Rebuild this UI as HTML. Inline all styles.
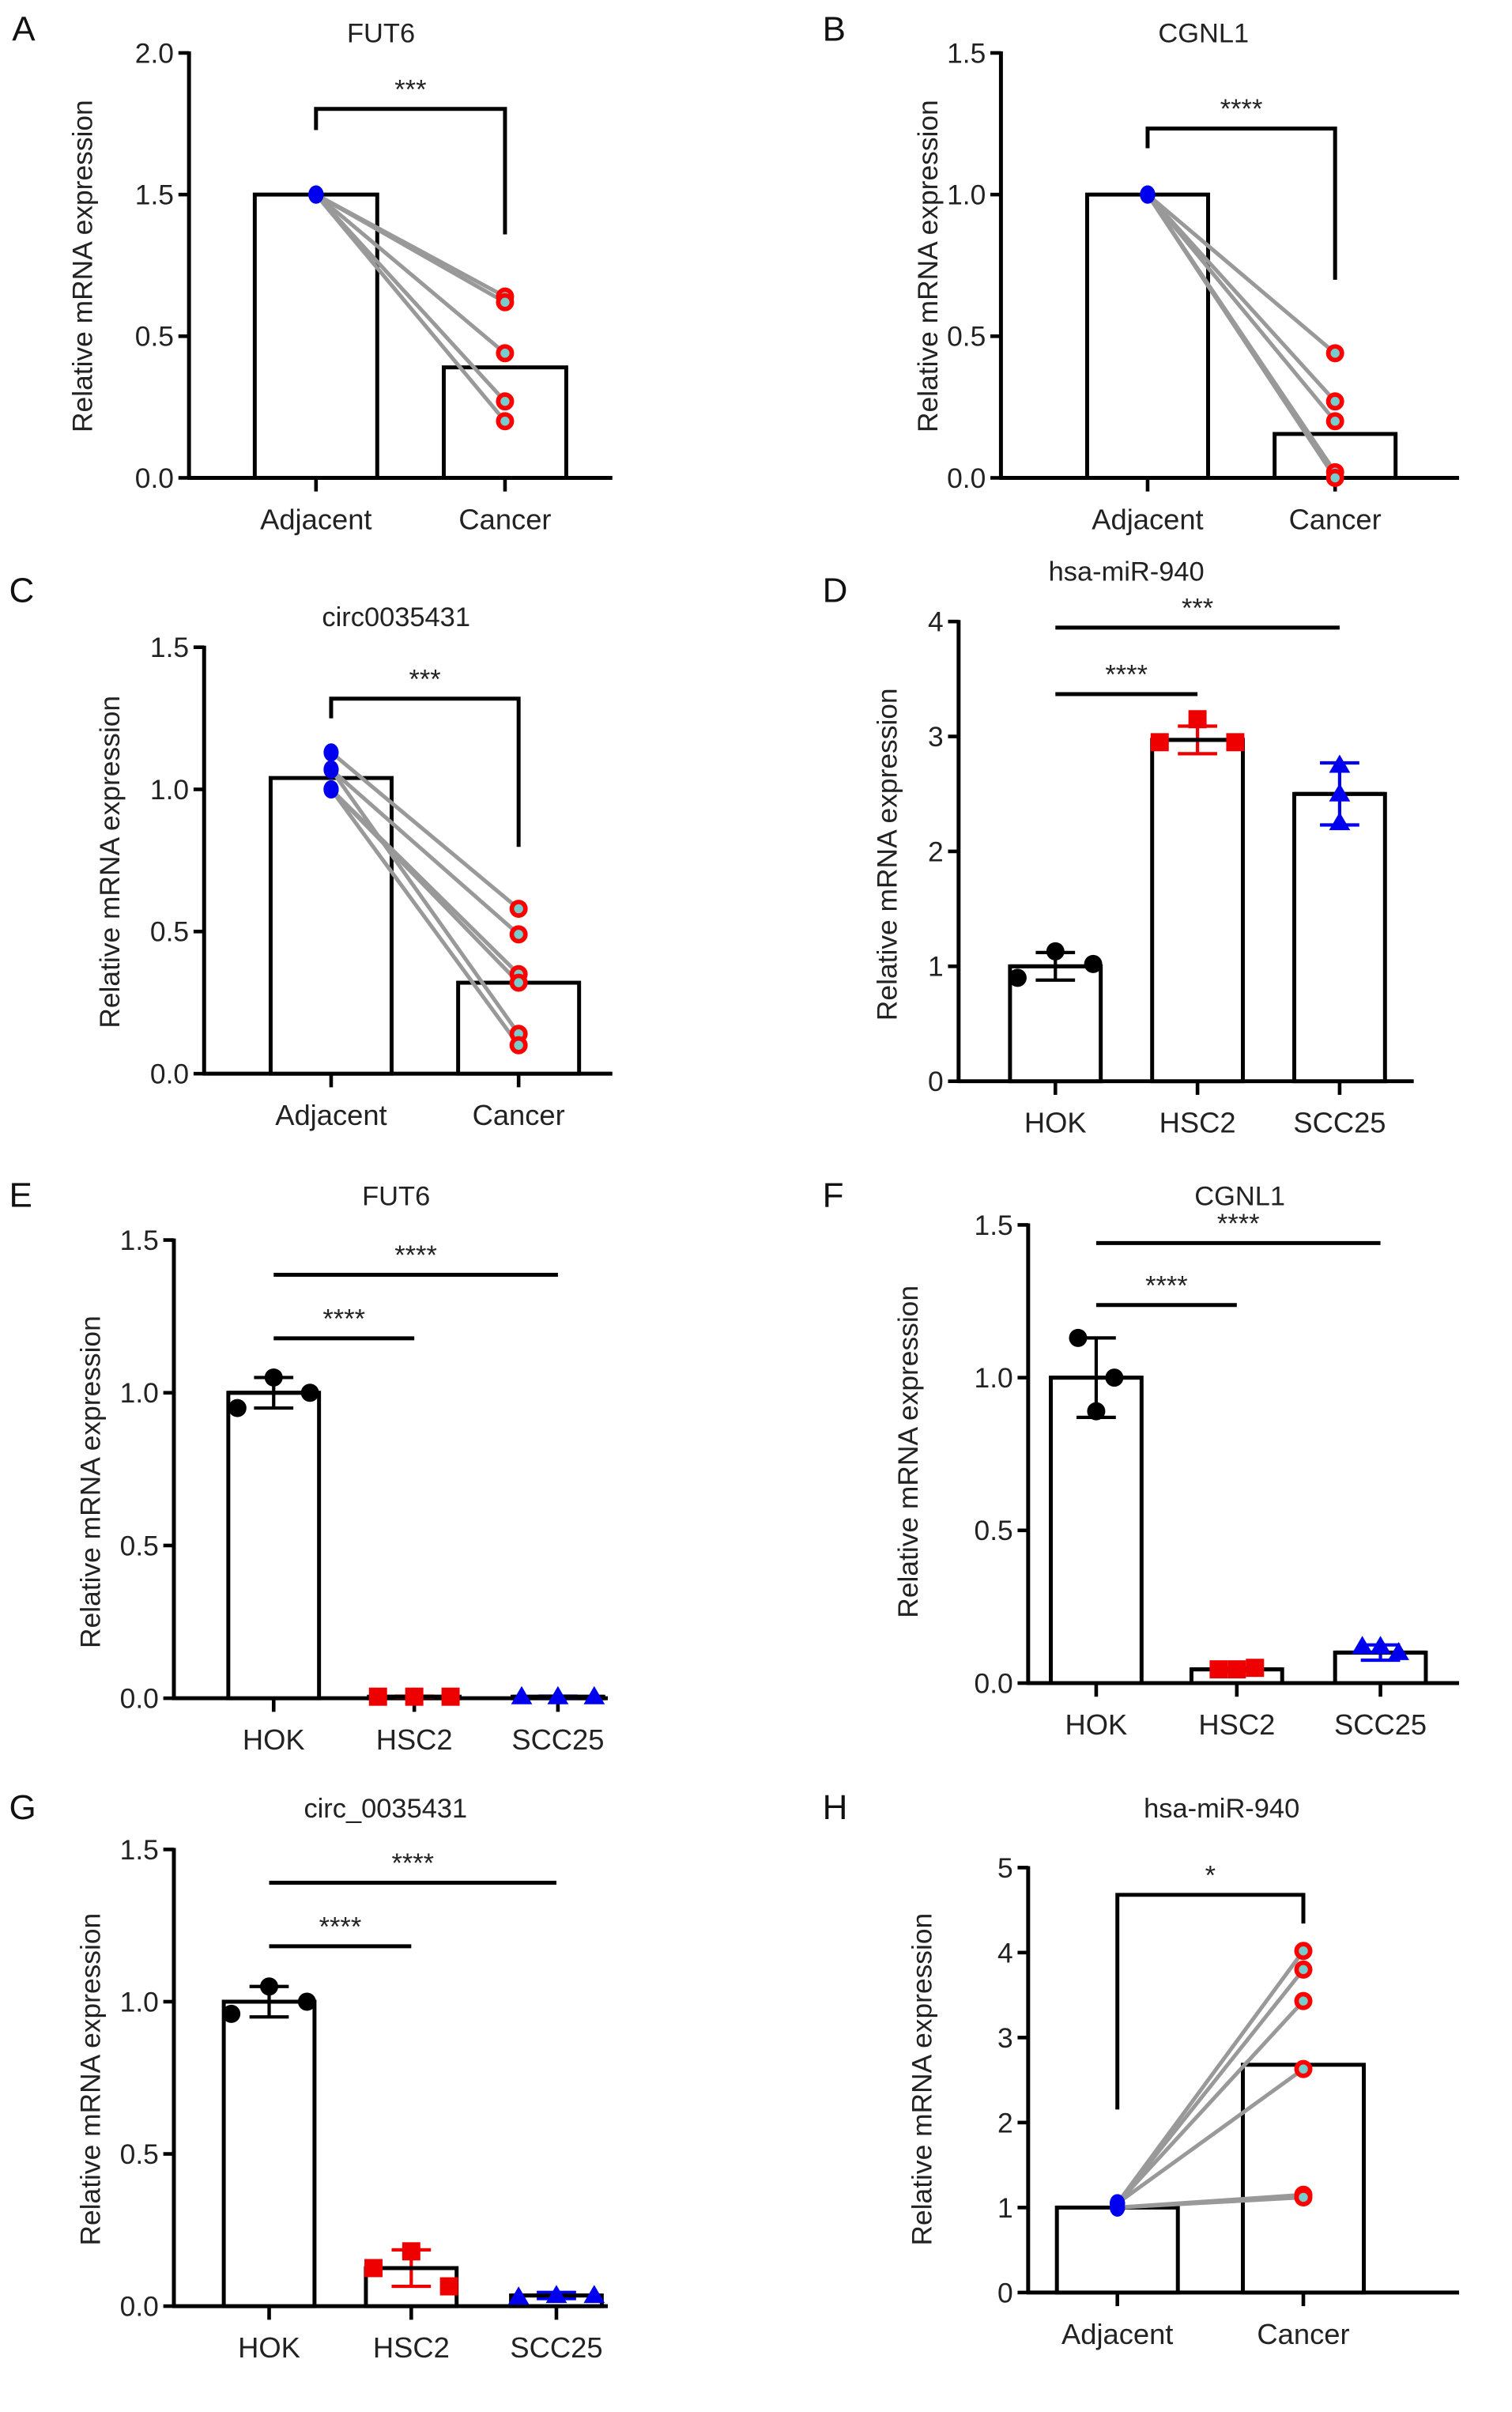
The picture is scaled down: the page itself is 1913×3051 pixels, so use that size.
<!DOCTYPE html>
<html><head><meta charset="utf-8"><style>
html,body{margin:0;padding:0;background:#fff;}
svg{display:block;font-family:"Liberation Sans",Arial,sans-serif;}
</style></head><body>
<svg id="fig" xmlns="http://www.w3.org/2000/svg" width="1913" height="3051" viewBox="0 0 1000 1595" preserveAspectRatio="none"></svg>
<script>
// ---- Panel A (paired) ----
const aCats = ["Adjacent","Cancer"];
const aTickVals = [0, 0.5, 1.0, 1.5];
const aTickLabels = ["0.0","0.5","1.5","2.0"];
const aBars = [1.0, 0.39];
const aAdj = [1.0, 1.0, 1.0, 1.0, 1.0];
const aCan = [0.64, 0.62, 0.44, 0.27, 0.20];
// ---- Panel B (paired) ----
const bCats = ["Adjacent","Cancer"];
const bTickVals = [0, 0.5, 1.0, 1.5];
const bTickLabels = ["0.0","0.5","1.0","1.5"];
const bBars = [1.0, 0.155];
const bAdj = [1.0, 1.0, 1.0, 1.0, 1.0];
const bCan = [0.44, 0.27, 0.20, 0.02, 0.0];
// ---- Panel C (paired) ----
const cCats = ["Adjacent","Cancer"];
const cTickVals = [0, 0.5, 1.0, 1.5];
const cTickLabels = ["0.0","0.5","1.0","1.5"];
const cBars = [1.04, 0.32];
const cAdj = [1.13, 1.07, 1.0, 1.0, 1.07, 1.0];
const cCan = [0.58, 0.49, 0.35, 0.32, 0.14, 0.10];
// ---- Panel D (groups) ----
const dCats = ["HOK","HSC2","SCC25"];
const dTickVals = [0,1,2,3,4];
const dTickLabels = ["0","1","2","3","4"];
const dMeans = [1.0, 2.97, 2.5];
const dSD = [0.12, 0.12, 0.27];
const dPts = [[0.9,1.13,1.02],[2.95,3.15,2.95],[2.75,2.5,2.25]];
// ---- Panel E (groups) ----
const eCats = ["HOK","HSC2","SCC25"];
const eTickVals = [0,0.5,1.0,1.5];
const eTickLabels = ["0.0","0.5","1.0","1.5"];
const eMeans = [1.0, 0.005, 0.005];
const eSD = [0.05, 0.002, 0.002];
const ePts = [[0.95,1.05,1.0],[0.005,0.005,0.005],[0.005,0.005,0.005]];
// ---- Panel F (groups) ----
const fCats = ["HOK","HSC2","SCC25"];
const fTickVals = [0,0.5,1.0,1.5];
const fTickLabels = ["0.0","0.5","1.0","1.5"];
const fMeans = [1.0, 0.045, 0.1];
const fSD = [0.13, 0.005, 0.025];
const fPts = [[1.13,0.89,1.0],[0.045,0.045,0.05],[0.12,0.12,0.1]];
// ---- Panel G (groups) ----
const gCats = ["HOK","HSC2","SCC25"];
const gTickVals = [0,0.5,1.0,1.5];
const gTickLabels = ["0.0","0.5","1.0","1.5"];
const gMeans = [1.0, 0.125, 0.035];
const gSD = [0.05, 0.06, 0.01];
const gPts = [[0.96,1.05,1.0],[0.125,0.18,0.065],[0.03,0.035,0.035]];
// ---- Panel H (paired) ----
const hCats = ["Adjacent","Cancer"];
const hTickVals = [0,1,2,3,4,5];
const hTickLabels = ["0","1","2","3","4","5"];
const hBars = [1.0, 2.68];
const hAdj = [1.05, 1.05, 1.05, 1.05, 1.0, 1.0];
const hCan = [4.02, 3.8, 3.43, 2.63, 1.15, 1.12];

const NS = "http://www.w3.org/2000/svg";
const svg = document.getElementById('fig');
function mk(tag, attrs, parent, text){
  const e = document.createElementNS(NS, tag);
  for (const k in attrs) e.setAttribute(k, attrs[k]);
  if (text !== undefined) e.textContent = text;
  (parent || svg).appendChild(e);
  return e;
}
function axes(g, c, tickVals, tickLabels, cats, xs){
  const ys = v => c.y0 - (v - 0) / c.vmax * (c.y0 - c.yTop);
  const yl = mk('line',{x1:c.ax,y1:c.yTop-1,x2:c.ax,y2:c.y0+1,stroke:'#000','stroke-width':2.6},g);
   
  const xl = mk('line',{x1:c.ax-1,y1:c.y0,x2:c.xEnd,y2:c.y0,stroke:'#000','stroke-width':2.6},g);
   
  tickVals.forEach((v,i)=>{
    const y = ys(v);
    mk('line',{x1:c.ax-7,y1:y,x2:c.ax,y2:y,stroke:'#000','stroke-width':2.4},g);
    const t = mk('text',{x:c.ax-10,y:y+6.5,'text-anchor':'end','font-size':18.5,fill:'#222'},g,tickLabels[i]);
     
  });
  cats.forEach((cat,i)=>{
    mk('line',{x1:xs[i],y1:c.y0,x2:xs[i],y2:c.y0+9,stroke:'#000','stroke-width':2.4},g);
    const t = mk('text',{x:xs[i],y:c.y0+34,'text-anchor':'middle','font-size':19,fill:'#222'},g,cat);
     
  });
  const tt = mk('text',{x:c.tx,y:c.ty,'text-anchor':'middle','font-size':18,fill:'#222'},g,c.title);
   
  const yt = mk('text',{x:0,y:0,'text-anchor':'middle','font-size':18.5,fill:'#222',transform:`translate(${c.ytx},${c.yty}) rotate(-90)`},g,'Relative mRNA expression');
   
  const lt = mk('text',{x:c.lx,y:c.ly,'font-size':23,fill:'#111'},g,c.letter);
   
  return ys;
}
function paired(c, cats, tickVals, tickLabels, bars, adj, can){
  const g = mk('g',{});
   
  const xs = c.xs;
  const ys = axes(g,c,tickVals,tickLabels,cats,xs);
  bars.forEach((v,i)=>{
    const r = mk('rect',{x:xs[i]-c.bw/2,y:ys(v),width:c.bw,height:c.y0-ys(v),fill:'#fff',stroke:'#000','stroke-width':2.6},g);
     
  });
  adj.forEach((v,i)=>{
    const l = mk('line',{x1:xs[0],y1:ys(v),x2:xs[1],y2:ys(can[i]),stroke:'#999','stroke-width':2.6},g);
     
  });
  adj.forEach((v)=>{
    const p = mk('ellipse',{cx:xs[0],cy:ys(v),rx:5,ry:6,fill:'#0000ee'},g);
     
  });
  can.forEach((v)=>{
    const p = mk('circle',{cx:xs[1],cy:ys(v),r:4.5,fill:'#7cc',stroke:'#f00','stroke-width':3},g);
     
  });
  const b = c.br;
  const br = mk('polyline',{points:`${xs[0]},${b[0]} ${xs[0]},${b[1]} ${xs[1]},${b[1]} ${xs[1]},${b[2]}`,fill:'none',stroke:'#000','stroke-width':2.6},g);
   
  const st = mk('text',{x:(xs[0]+xs[1])/2,y:b[1]-7,'text-anchor':'middle','font-size':18,fill:'#222'},g,c.stars);
   
}
function marker(g,kind,x,y,color){
  let m;
  if(kind===0) m = mk('circle',{cx:x,cy:y,r:6,fill:color},g);
  else if(kind===1) m = mk('rect',{x:x-6,y:y-6,width:12,height:12,fill:color},g);
  else m = mk('polygon',{points:`${x},${y-7} ${x+7},${y+5} ${x-7},${y+5}`,fill:color},g);
   
}
function groups(c, cats, tickVals, tickLabels, means, sd, pts){
  const g = mk('g',{});
   
  const xs = c.xs;
  const ys = axes(g,c,tickVals,tickLabels,cats,xs);
  const colors = ['#000','#ee0000','#0000ee'];
  means.forEach((v,i)=>{
    const r = mk('rect',{x:xs[i]-c.bw/2,y:ys(v),width:c.bw,height:Math.max(0,c.y0-ys(v)),fill:'#fff',stroke:'#000','stroke-width':2.6},g);
     
  });
  means.forEach((v,i)=>{
    const eg = mk('g',{stroke:colors[i],'stroke-width':2.2},g);
     
    mk('line',{x1:xs[i],y1:ys(v+sd[i]),x2:xs[i],y2:ys(v-sd[i])},eg);
    mk('line',{x1:xs[i]-13,y1:ys(v+sd[i]),x2:xs[i]+13,y2:ys(v+sd[i])},eg);
    mk('line',{x1:xs[i]-13,y1:ys(v-sd[i]),x2:xs[i]+13,y2:ys(v-sd[i])},eg);
    mk('line',{x1:xs[i]-c.bw/2,y1:ys(v),x2:xs[i]+c.bw/2,y2:ys(v),stroke:'#000','stroke-width':2.6},eg);
  });
  pts.forEach((arr,i)=>{
    arr.forEach((v,j)=>{
      const dx = (i===2 && c.letter==='D') ? 0 : (j-1)*c.spread;
      marker(g,i,xs[i]+dx,ys(v),colors[i]);
    });
  });
  c.sig.forEach((s)=>{
    const l = mk('line',{x1:xs[0],y1:s.y,x2:xs[s.to],y2:s.y,stroke:'#000','stroke-width':2.6},g);
     
    const t = mk('text',{x:(xs[0]+xs[s.to])/2,y:s.y-7,'text-anchor':'middle','font-size':18,fill:'#222'},g,s.stars);
     
  });
}

paired({letter:'A',lx:8,ly:27,title:'FUT6',tx:252,ty:28,ytx:61,yty:176,ax:125,y0:316,yTop:35,vmax:1.5,xEnd:405,xs:[209,334],bw:81,br:[86,72,155],stars:'***'},
  aCats,aTickVals,aTickLabels,aBars,aAdj,aCan);
paired({letter:'B',lx:544,ly:27,title:'CGNL1',tx:796,ty:28,ytx:620,yty:176,ax:662,y0:316,yTop:35,vmax:1.5,xEnd:965,xs:[759,883],bw:80,br:[98,85,185],stars:'****'},
  bCats,bTickVals,bTickLabels,bBars,bAdj,bCan);
paired({letter:'C',lx:6,ly:398,title:'circ0035431',tx:262,ty:414,ytx:79,yty:570,ax:135,y0:710,yTop:428,vmax:1.5,xEnd:405,xs:[219,343],bw:80,br:[475,462,560],stars:'***'},
  cCats,cTickVals,cTickLabels,cBars,cAdj,cCan);
groups({letter:'D',lx:544,ly:398,title:'hsa-miR-940',tx:745,ty:384,ytx:593,yty:565,ax:634,y0:715,yTop:411,vmax:4,xEnd:935,xs:[698,792,886],bw:60,spread:25,
  sig:[{to:1,y:459,stars:'****'},{to:2,y:415,stars:'***'}]},dCats,dTickVals,dTickLabels,dMeans,dSD,dPts);
groups({letter:'E',lx:6,ly:798,title:'FUT6',tx:262,ty:797,ytx:66,yty:980,ax:115,y0:1123,yTop:820,vmax:1.5,xEnd:402,xs:[181,274,369],bw:60,spread:24,
  sig:[{to:1,y:885,stars:'****'},{to:2,y:843,stars:'****'}]},eCats,eTickVals,eTickLabels,eMeans,eSD,ePts);
groups({letter:'F',lx:544,ly:798,title:'CGNL1',tx:820,ty:797,ytx:607,yty:960,ax:680,y0:1113,yTop:810,vmax:1.5,xEnd:965,xs:[725,818,913],bw:60,spread:12,
  sig:[{to:1,y:863,stars:'****'},{to:2,y:822,stars:'****'}]},fCats,fTickVals,fTickLabels,fMeans,fSD,fPts);
groups({letter:'G',lx:6,ly:1203,title:'circ_0035431',tx:255,ty:1202,ytx:66,yty:1375,ax:115,y0:1525,yTop:1223,vmax:1.5,xEnd:402,xs:[178,272,368],bw:60,spread:25,
  sig:[{to:1,y:1287,stars:'****'},{to:2,y:1245,stars:'****'}]},gCats,gTickVals,gTickLabels,gMeans,gSD,gPts);
paired({letter:'H',lx:544,ly:1203,title:'hsa-miR-940',tx:808,ty:1202,ytx:616,yty:1375,ax:680,y0:1516,yTop:1235,vmax:5,xEnd:965,xs:[739,862],bw:80,br:[1395,1253,1272],stars:'*'},
  hCats,hTickVals,hTickLabels,hBars,hAdj,hCan);
</script>
</body></html>
